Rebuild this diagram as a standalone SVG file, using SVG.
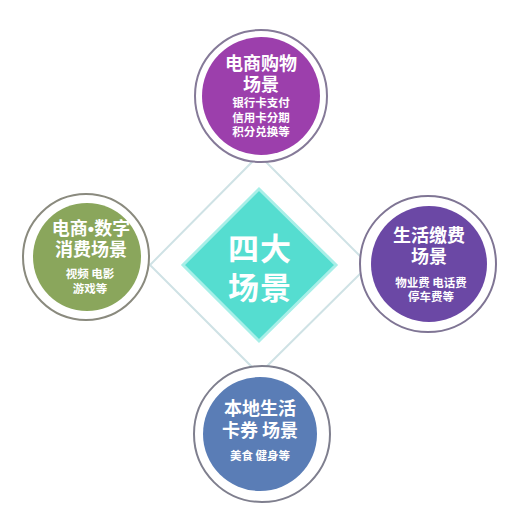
<svg xmlns="http://www.w3.org/2000/svg" width="522" height="522" viewBox="0 0 522 522">
<style>
text{font-family:"Noto Sans CJK SC","Noto Sans",sans-serif;fill:#fff;text-anchor:middle;font-weight:bold}
.big{font-size:18px}
.small{font-size:11.5px}
.ring{fill:#fff;stroke-width:2}
.dot{font-family:"Liberation Sans",sans-serif}
</style>
<rect width="522" height="522" fill="#fff"/>
<g id="connectors">
<polygon points="259,155 369,265 259,374 150,265" fill="none" stroke="#cfe2e5" stroke-width="2"/>
</g>
<g id="center">
<polygon points="259,189 336,265 259,341 183,265" fill="#55ddd0" stroke="#a8efe8" stroke-width="3"/>
<text x="260" y="260" style="font-size:31px;letter-spacing:1px">四大</text>
<text x="260" y="299" style="font-size:31px;letter-spacing:1px">场景</text>
</g>
<g id="top">
<circle cx="261" cy="96" r="66" class="ring" stroke="#857a98"/>
<circle cx="261" cy="96" r="59" fill="#9c3fac"/>
<text x="261" y="70" class="big">电商购物</text>
<text x="261" y="91" class="big">场景</text>
<text x="261" y="107" class="small">银行卡支付</text>
<text x="261" y="122" class="small">信用卡分期</text>
<text x="261" y="136" class="small">积分兑换等</text>
</g>
<g id="left">
<circle cx="86" cy="257" r="63" class="ring" stroke="#8a8a7e"/>
<circle cx="87" cy="257" r="54" fill="#8aa65c"/>
<text x="91" y="235" class="big">电商<tspan class="dot">•</tspan>数字</text>
<text x="91" y="256" class="big">消费场景</text>
<text x="90" y="278" class="small">视频 电影</text>
<text x="90" y="293" class="small">游戏等</text>
</g>
<g id="right">
<circle cx="428" cy="264" r="68" class="ring" stroke="#7f7594"/>
<circle cx="429" cy="264" r="58" fill="#6b48a5"/>
<text x="429" y="242" class="big">生活缴费</text>
<text x="429" y="263" class="big">场景</text>
<text x="431" y="287" class="small">物业费 电话费</text>
<text x="431" y="301" class="small">停车费等</text>
</g>
<g id="bottom">
<circle cx="262" cy="434" r="68" class="ring" stroke="#7f7f8e"/>
<circle cx="260" cy="434" r="57" fill="#5a7db6"/>
<text x="260" y="415" class="big">本地生活</text>
<text x="260" y="437" class="big">卡券 场景</text>
<text x="260" y="460" class="small">美食 健身等</text>
</g>
</svg>
